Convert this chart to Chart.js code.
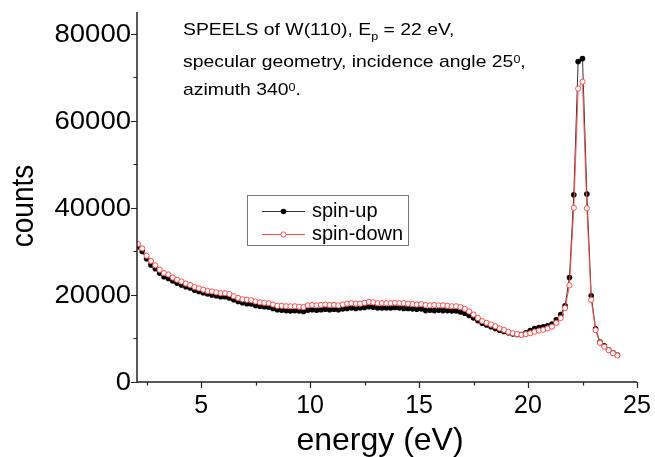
<!DOCTYPE html>
<html>
<head>
<meta charset="utf-8">
<script src="https://cdn.jsdelivr.net/npm/chart.js@4.4.1/dist/chart.umd.min.js"></script>
<style>
  html, body { margin: 0; padding: 0; background: #fff; }
</style>
</head>
<body>
<canvas id="Cnvs" width="655" height="457"></canvas>
<script>
// energy grid (eV), 0.2 eV steps
var energy = [
  2.1, 2.3, 2.5, 2.7, 2.9, 3.1, 3.3, 3.5, 3.7, 3.9,
  4.1, 4.3, 4.5, 4.7, 4.9, 5.1, 5.3, 5.5, 5.7, 5.9,
  6.1, 6.3, 6.5, 6.7, 6.9, 7.1, 7.3, 7.5, 7.7, 7.9,
  8.1, 8.3, 8.5, 8.7, 8.9, 9.1, 9.3, 9.5, 9.7, 9.9,
  10.1, 10.3, 10.5, 10.7, 10.9, 11.1, 11.3, 11.5, 11.7, 11.9,
  12.1, 12.3, 12.5, 12.7, 12.9, 13.1, 13.3, 13.5, 13.7, 13.9,
  14.1, 14.3, 14.5, 14.7, 14.9, 15.1, 15.3, 15.5, 15.7, 15.9,
  16.1, 16.3, 16.5, 16.7, 16.9, 17.1, 17.3, 17.5, 17.7, 17.9,
  18.1, 18.3, 18.5, 18.7, 18.9, 19.1, 19.3, 19.5, 19.7, 19.9,
  20.1, 20.3, 20.5, 20.7, 20.9, 21.1, 21.3, 21.5, 21.7, 21.9,
  22.1, 22.3, 22.5, 22.7, 22.9, 23.1, 23.3, 23.5, 23.7, 23.9,
  24.1
];

var spinUp = [
  31000, 30000, 28300, 26900, 26000, 25000, 24200, 23800, 23200, 22700,
  22300, 21900, 21600, 21100, 20800, 20500, 20200, 20000, 19800, 19600,
  19600, 19300, 18900, 18500, 18200, 18000, 17900, 17600, 17400, 17300,
  17200, 16900, 16600, 16500, 16400, 16300, 16400, 16300, 16200, 16500,
  16600, 16500, 16600, 16700, 16600, 16700, 16600, 16800, 16900, 17000,
  16900, 17000, 17100, 17300, 17200, 17000, 17000, 17000, 17000, 17100,
  17000, 16900, 16900, 16800, 16700, 16800, 16400, 16500, 16400, 16500,
  16400, 16400, 16300, 16300, 16100, 15800, 15300, 14700, 14100, 13500,
  13100, 12700, 12300, 11900, 11600, 11300, 11000, 10900, 10900, 11300,
  11800, 12300, 12500, 12700, 12900, 13300, 14300, 15500, 17500, 24000,
  43000, 73600, 74300, 43200, 19800, 12200, 9200, 8300, 7400, 6700,
  6200
];

var spinDown = [
  31700, 30700, 29000, 27800, 26800, 25800, 25000, 24700, 24000, 23500,
  23100, 22600, 22300, 21800, 21500, 21200, 20900, 20800, 20600, 20400,
  20400, 20200, 19700, 19300, 19000, 18900, 18800, 18500, 18300, 18200,
  18100, 17800, 17500, 17500, 17400, 17400, 17400, 17300, 17200, 17600,
  17700, 17600, 17700, 17800, 17700, 17700, 17600, 17800, 18000, 18100,
  18000, 18000, 18200, 18400, 18300, 18100, 18100, 18100, 18100, 18200,
  18100, 18100, 18000, 17900, 17800, 17900, 17700, 17600, 17700, 17600,
  17600, 17500, 17400, 17400, 17200, 16800, 16200, 15500, 14700, 14000,
  13600, 13200, 12800, 12300, 11950, 11500, 11200, 11000, 10800, 11000,
  11200, 11550, 11800, 12000, 12300, 12700, 13600, 14700, 17000, 22200,
  40000, 67400, 69000, 39900, 18900, 11900, 9000, 8100, 7300, 6600,
  6100
];

var xTicks = [5, 10, 15, 20, 25];
var xMinor = [2.5, 7.5, 12.5, 17.5, 22.5];
var yTicks = [0, 20000, 40000, 60000, 80000];
var yMinor = [10000, 30000, 50000, 70000];

var FONT = '"Liberation Sans", Arial, sans-serif';
var RED = '#ff4a4a';
var AXIS = '#222';

function pts(ys) {
  return ys.map(function(v, i) { return { x: energy[i], y: v }; });
}

// text squeezed/stretched sideways like the original bitmap
function wideText(ctx, txt, x, y, sx) {
  ctx.save();
  ctx.translate(x, y);
  ctx.scale(sx, 1);
  ctx.fillText(txt, 0, 0);
  ctx.restore();
  return ctx.measureText(txt).width * sx;
}

// axis lines, ticks, tick labels, legend box, axis titles, annotation
var decor = {
  id: 'decor',
  afterDraw: function(chart) {
    var ctx = chart.ctx;
    var xs = chart.scales.x, ys = chart.scales.y;
    var a = chart.chartArea;
    ctx.save();
    ctx.strokeStyle = AXIS;
    ctx.lineWidth = 1.5;
    ctx.beginPath();
    ctx.moveTo(a.left, a.top);
    ctx.lineTo(a.left, a.bottom);
    ctx.lineTo(a.right, a.bottom);
    ctx.stroke();

    ctx.lineWidth = 1.2;
    ctx.beginPath();
    xTicks.forEach(function(v) {
      var px = Math.round(xs.getPixelForValue(v)) + 0.5;
      ctx.moveTo(px, a.bottom); ctx.lineTo(px, a.bottom + 6);
    });
    xMinor.forEach(function(v) {
      var px = Math.round(xs.getPixelForValue(v)) + 0.5;
      ctx.moveTo(px, a.bottom); ctx.lineTo(px, a.bottom + 3.5);
    });
    yTicks.forEach(function(v) {
      var py = Math.round(ys.getPixelForValue(v)) + 0.5;
      ctx.moveTo(a.left, py); ctx.lineTo(a.left - 6, py);
    });
    yMinor.forEach(function(v) {
      var py = Math.round(ys.getPixelForValue(v)) + 0.5;
      ctx.moveTo(a.left, py); ctx.lineTo(a.left - 3.5, py);
    });
    ctx.stroke();

    // tick labels
    ctx.fillStyle = '#000';
    ctx.font = '25px ' + FONT;
    ctx.textAlign = 'center';
    ctx.textBaseline = 'alphabetic';
    xTicks.forEach(function(v) {
      ctx.fillText(String(v), xs.getPixelForValue(v), 413);
    });
    ctx.textAlign = 'right';
    ctx.textBaseline = 'middle';
    ctx.font = '25px ' + FONT;
    yTicks.forEach(function(v) {
      wideText(ctx, String(v), 131, ys.getPixelForValue(v) + 1, 1.1);
    });

    // axis titles
    ctx.font = '32px ' + FONT;
    ctx.textAlign = 'center';
    ctx.textBaseline = 'alphabetic';
    ctx.fillText('energy (eV)', 380, 450);
    ctx.save();
    ctx.translate(33, 206);
    ctx.rotate(-Math.PI / 2);
    ctx.font = '28px ' + FONT;
    ctx.scale(1, 1.1);
    ctx.fillText('counts', 0, 0);
    ctx.restore();

    // legend
    ctx.strokeStyle = '#777';
    ctx.lineWidth = 1;
    ctx.strokeRect(247.5, 195.5, 161, 50);
    ctx.strokeStyle = '#333';
    ctx.beginPath(); ctx.moveTo(262, 211.5); ctx.lineTo(305, 211.5); ctx.stroke();
    ctx.fillStyle = '#000';
    ctx.beginPath(); ctx.arc(283.5, 211.5, 2.8, 0, Math.PI * 2); ctx.fill();
    ctx.strokeStyle = RED;
    ctx.beginPath(); ctx.moveTo(262, 234.5); ctx.lineTo(305, 234.5); ctx.stroke();
    ctx.fillStyle = '#fff';
    ctx.beginPath(); ctx.arc(283.5, 234.5, 2.6, 0, Math.PI * 2); ctx.fill(); ctx.stroke();
    ctx.fillStyle = '#000';
    ctx.font = '20px ' + FONT;
    ctx.textAlign = 'left';
    ctx.textBaseline = 'middle';
    ctx.fillText('spin-up', 312, 211);
    ctx.fillText('spin-down', 312, 234);

    // annotation with sub/superscripts
    ctx.textBaseline = 'alphabetic';
    function line(parts, x, y) {
      parts.forEach(function(p) {
        ctx.font = (p.s ? 11 : 17) + 'px ' + FONT;
        x += wideText(ctx, p.t, x, y + (p.s || 0), 1.14);
      });
    }
    line([{ t: 'SPEELS of W(110), E' }, { t: 'p', s: 5 }, { t: ' = 22 eV,' }], 183, 35);
    line([{ t: 'specular geometry, incidence angle 25' }, { t: '0', s: -4 }, { t: ',' }], 183, 67);
    line([{ t: 'azimuth 340' }, { t: '0', s: -4 }, { t: '.' }], 183, 95);
    ctx.restore();
  }
};

var chart = new Chart(document.getElementById('Cnvs'), {
  type: 'scatter',
  data: {
    datasets: [
      {
        label: 'spin-down',
        data: pts(spinDown),
        showLine: true,
        borderColor: RED,
        borderWidth: 1,
        pointRadius: 2.6,
        pointBorderWidth: 1,
        pointBackgroundColor: '#fff',
        pointBorderColor: RED,
        order: 0
      },
      {
        label: 'spin-up',
        data: pts(spinUp),
        showLine: true,
        borderColor: '#333',
        borderWidth: 1,
        pointRadius: 2.8,
        pointBorderWidth: 0,
        pointBackgroundColor: '#000',
        pointBorderColor: '#000',
        order: 1
      }
    ]
  },
  options: {
    responsive: false,
    animation: false,
    devicePixelRatio: 1,
    layout: { padding: { left: 0, right: 18, top: 12, bottom: 0 } },
    plugins: { legend: { display: false }, tooltip: { enabled: false } },
    scales: {
      x: {
        type: 'linear',
        min: 2.06,
        max: 25,
        grid: { display: false, drawTicks: false },
        border: { display: false },
        ticks: { display: false },
        afterFit: function(s) { s.height = 75; }
      },
      y: {
        type: 'linear',
        min: 0,
        max: 85000,
        grid: { display: false, drawTicks: false },
        border: { display: false },
        ticks: { display: false },
        afterFit: function(s) { s.width = 137; }
      }
    }
  },
  plugins: [decor]
});
</script>
</body>
</html>
